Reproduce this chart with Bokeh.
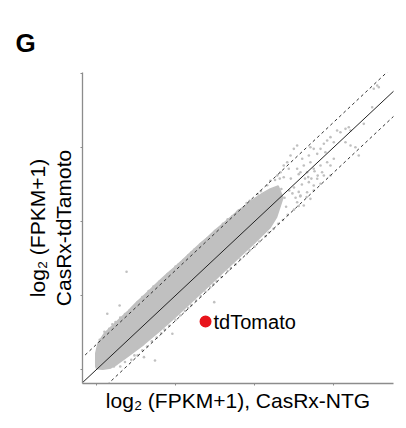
from bokeh.plotting import figure
from bokeh.models import Label, FixedTicker, Range1d
from bokeh.embed import file_html
from bokeh.resources import INLINE

# ---- data (log2(FPKM+1)) ----
x_ticks = [0, 5, 10, 15]
y_ticks = [0, 5, 10, 15, 20]
diag = [-1.0, 21.0]
fold_offset = 1.7

# dense core of the gene cloud: upper edge then lower edge
core_upper_x = [-0.05, -0.05, 0.1, 0.5, 1.0, 1.5, 2.0, 2.5, 3.0, 3.5, 4.0, 4.5, 5.0, 5.5, 6.0,
                6.5, 7.0, 7.5, 8.0, 8.5, 9.0, 9.5, 10.0, 10.5, 11.0, 11.5]
core_upper_y = [0.2, 1.1, 1.8, 2.45, 2.95, 3.45, 3.95, 4.5, 5.0, 5.5, 6.0, 6.5, 6.95, 7.45, 7.95,
                8.45, 8.9, 9.4, 9.85, 10.3, 10.75, 11.15, 11.55, 11.9, 12.2, 12.4]
core_lower_x = [11.8, 11.4, 11.0, 10.0, 9.0, 8.0, 7.0, 6.0, 5.0, 4.0, 3.0, 2.0, 1.3, 0.9, 0.4, 0.0]
core_lower_y = [11.6, 10.3, 9.6, 8.55, 7.55, 6.55, 5.55, 4.55, 3.55, 2.6, 1.7, 0.9, 0.35, 0.1, 0.02, 0.05]

# sparse genes (fringe, high-expression tail, outliers)
gene_x = [0.5, 1.0, 1.5, 2.3, 2.6, 3.0, 3.7, 4.0, 4.5, 5.2, 5.5, 6.0, 6.7, 7.0, 7.5, 8.0, 8.3,
          9.0, 9.5, 10.2, 10.8, 11.0,
          0.2, 0.8, 1.2, 1.8, 2.1, 2.9, 3.3, 3.6, 4.2, 4.7, 5.0, 5.8, 6.2, 6.4, 7.3, 7.8, 8.6,
          8.9, 9.7, 10.4, 11.3, 11.6,
          1.5, 2.2, 2.6, 3.2, 3.8, 4.3, 5.0, 5.6, 6.0, 6.6, 7.2, 7.6, 8.3, 8.8, 9.5, 10.0, 10.7,
          11.2, 11.8, 12.5,
          1.1, 1.8, 2.4, 2.9, 3.5, 4.1, 4.6, 5.3, 5.8, 6.3, 6.9, 7.4, 7.9, 8.5, 9.1, 9.7, 10.3,
          10.9, 11.5, 12.1, 12.8, 13.3,
          11.9, 12.2, 12.5, 12.8, 12.6, 13.0, 13.2, 12.4, 13.4, 12.9, 12.0, 13.6, 13.8, 14.0,
          11.7, 12.3, 12.8,
          1.9, 1.46, 0.68, 3.0, 3.7, 7.45, 4.8,
          12.28, 12.49, 12.7, 12.07, 11.85, 12.17, 11.65, 11.44, 11.85,
          13.54, 13.12, 13.75, 13.33, 12.91, 12.7, 13.02, 13.44,
          13.97, 13.75, 13.44, 14.39, 14.81, 14.18,
          13.33, 12.91, 13.54, 12.7, 13.75, 13.12,
          14.6, 14.81, 15.02, 14.18, 14.28,
          14.81, 14.6, 15.02, 14.39, 14.18, 14.49, 13.97, 13.75, 13.54,
          16.08, 16.39, 15.76, 16.6,
          15.97, 15.76, 16.08, 15.44, 15.23, 16.92, 17.45, 17.77, 17.55, 17.87]
gene_y = [2.55, 3.05, 3.5, 4.2, 4.55, 4.9, 5.6, 5.95, 6.45, 7.1, 7.4, 7.9, 8.55, 8.85, 9.35, 9.85, 10.15,
          10.75, 11.25, 11.85, 12.45, 12.75,
          2.0, 2.75, 3.2, 3.75, 4.0, 4.9, 5.3, 5.6, 6.1, 6.6, 6.95, 7.7, 8.1, 8.2, 9.1, 9.5, 10.35,
          10.65, 11.4, 12.05, 12.8, 12.9,
          0.2, 0.65, 0.95, 1.55, 2.15, 2.7, 3.35, 3.95, 4.35, 4.95, 5.55, 5.95, 6.65, 7.1, 7.8, 8.3, 9.0,
          9.5, 10.1, 10.8,
          0.2, 0.5, 0.95, 1.3, 1.9, 2.45, 2.95, 3.65, 4.15, 4.65, 5.25, 5.75, 6.25, 6.85, 7.45, 8.05, 8.65,
          9.25, 9.85, 10.45, 11.05, 11.65,
          11.6, 12.1, 12.3, 12.0, 11.6, 12.5, 12.9, 11.9, 13.0, 11.7, 11.0, 12.9, 13.4, 13.1,
          12.2, 12.9, 13.2,
          6.6, 4.32, 3.76, 0.83, 0.6, 4.55, 2.41,
          14.46, 14.91, 15.14, 14.0, 13.78, 13.56, 13.33, 13.11, 12.99,
          14.0, 13.78, 13.56, 13.33, 13.33, 13.56, 14.24, 14.46,
          12.89, 12.43, 12.66, 13.11, 13.11, 12.55,
          11.98, 11.76, 11.53, 11.3, 12.09, 11.08,
          14.0, 13.78, 14.24, 13.78, 13.33,
          15.7, 15.47, 15.36, 15.25, 14.91, 14.68, 14.57, 14.91, 15.02,
          15.14, 15.02, 15.36, 14.46,
          16.37, 16.26, 16.15, 16.03, 16.15, 16.6, 17.72, 19.19, 18.97, 19.07]

td_name = "tdTomato"
td_x = [6.9]
td_y = [3.24]

FONT = "Liberation Sans"
GRAY = "#c0c0c0"

p = figure(width=406, height=428, output_backend="svg", toolbar_location=None,
           x_range=Range1d(-0.89, 18.8), y_range=Range1d(-0.95, 20.07),
           min_border_left=82, min_border_right=13, min_border_top=72, min_border_bottom=45,
           title="G")
p.grid.visible = False
p.outline_line_color = None

p.title.text_font = FONT
p.title.text_font_size = "26px"
p.title.text_font_style = "bold"
p.title.text_color = "black"
p.title.offset = -67
p.title.standoff = 29

for ax, ticks in ((p.xaxis, x_ticks), (p.yaxis, y_ticks)):
    ax.ticker = FixedTicker(ticks=ticks)
    ax.major_label_overrides = {t: "" for t in ticks}
    ax.major_label_standoff = 0
    ax.axis_line_color = "#8c8c8c"
    ax.axis_line_width = 1.3
    ax.major_tick_line_color = "#8c8c8c"
    ax.major_tick_out = 2
    ax.major_tick_in = 0
    ax.minor_tick_line_color = None
    ax.axis_label_text_font = FONT
    ax.axis_label_text_font_size = "21px"
    ax.axis_label_text_font_style = "normal"
    ax.axis_label_text_color = "black"

p.xaxis.axis_label = "log\u2082 (FPKM+1), CasRx-NTG"
p.xaxis.axis_label_standoff = 3
p.yaxis.axis_label = "log\u2082 (FPKM+1)\nCasRx-tdTamoto"
p.yaxis.axis_label_standoff = 6
p.yaxis.axis_label_text_line_height = 1.1

# gene cloud
p.patch(core_upper_x + core_lower_x, core_upper_y + core_lower_y,
        fill_color=GRAY, line_color=GRAY, line_width=1.5)
p.scatter(gene_x, gene_y, size=2.6, color=GRAY, line_color=None)

# diagonal and fold-change lines
p.line(diag, diag, line_color="#222222", line_width=1)
p.line(diag, [d + fold_offset for d in diag], line_color="#333333", line_width=1, line_dash="3 3")
p.line(diag, [d - fold_offset for d in diag], line_color="#333333", line_width=1, line_dash="3 3")

# tdTomato
p.scatter(td_x, td_y, size=12, color="#e8141c", line_color=None)
p.add_layout(Label(x=td_x[0], y=td_y[0], x_offset=8, text=td_name, text_baseline="middle",
                   text_font=FONT, text_font_size="20px", text_color="black"))

open("out.html", "w").write(file_html(p, INLINE))
